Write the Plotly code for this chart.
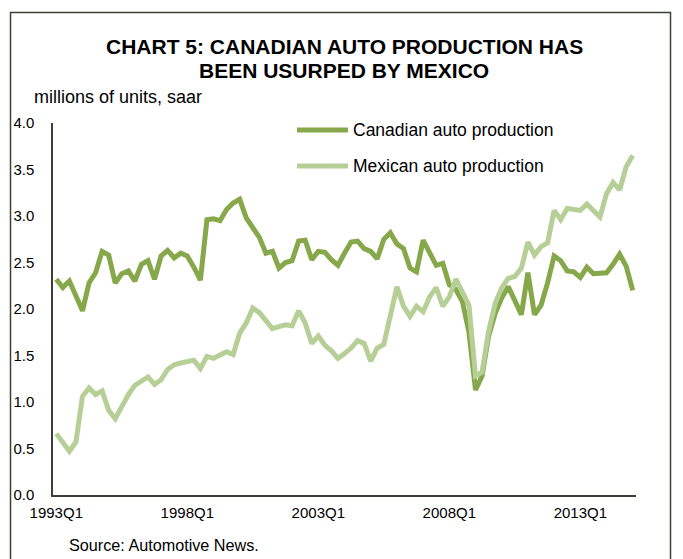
import plotly.graph_objects as go

quarters = [f"{y}Q{q}" for y in range(1993, 2016) for q in range(1, 5)][:89]

canada = [2.32, 2.23, 2.30, 2.14, 1.98, 2.28, 2.39, 2.62, 2.58, 2.28,
          2.38, 2.41, 2.30, 2.48, 2.52, 2.32, 2.57, 2.63, 2.55, 2.60,
          2.57, 2.45, 2.31, 2.96, 2.97, 2.95, 3.07, 3.14, 3.18, 2.98,
          2.88, 2.77, 2.60, 2.62, 2.44, 2.50, 2.52, 2.73, 2.74, 2.53,
          2.62, 2.61, 2.53, 2.47, 2.60, 2.72, 2.73, 2.65, 2.62, 2.54,
          2.75, 2.82, 2.70, 2.65, 2.44, 2.40, 2.74, 2.61, 2.47, 2.49,
          2.26, 2.21, 2.08, 1.75, 1.13, 1.28, 1.71, 1.95, 2.12, 2.24,
          2.10, 1.94, 2.39, 1.94, 2.04, 2.28, 2.57, 2.52, 2.41, 2.40,
          2.34, 2.45, 2.38, 2.38, 2.39, 2.48, 2.59, 2.46, 2.20]

mexico = [0.66, 0.56, 0.47, 0.57, 1.06, 1.15, 1.08, 1.12, 0.91, 0.82,
          0.95, 1.08, 1.18, 1.22, 1.27, 1.19, 1.24, 1.35, 1.40, 1.42,
          1.43, 1.45, 1.36, 1.49, 1.47, 1.51, 1.54, 1.51, 1.74, 1.85,
          2.01, 1.96, 1.88, 1.79, 1.81, 1.83, 1.82, 1.98, 1.85, 1.63,
          1.71, 1.61, 1.55, 1.47, 1.52, 1.58, 1.66, 1.63, 1.44, 1.58,
          1.62, 1.93, 2.24, 2.03, 1.92, 2.03, 1.97, 2.13, 2.23, 2.03,
          2.13, 2.32, 2.19, 2.04, 1.28, 1.32, 1.76, 2.06, 2.23, 2.33,
          2.35, 2.44, 2.72, 2.58, 2.67, 2.71, 3.06, 2.96, 3.08, 3.07,
          3.06, 3.13, 3.06, 2.99, 3.24, 3.36, 3.28, 3.53, 3.65]

x_ticks = ["1993Q1", "1998Q1", "2003Q1", "2008Q1", "2013Q1"]
y_ticks = [0.0, 0.5, 1.0, 1.5, 2.0, 2.5, 3.0, 3.5, 4.0]

names = ["Canadian auto production", "Mexican auto production"]
colors = ["#86A84A", "#B6CF97"]

FONT = "Liberation Sans, Arial, sans-serif"
AXIS = "#3b4233"

fig = go.Figure()
fig.add_trace(go.Scatter(x=quarters, y=canada, mode="lines", name=names[0],
                         line=dict(color=colors[0], width=5), showlegend=False))
fig.add_trace(go.Scatter(x=quarters, y=mexico, mode="lines", name=names[1],
                         line=dict(color=colors[1], width=5), showlegend=False))

L, R, T, B = 53, 47, 123, 64
W, H = 683, 559
pw, ph = W - L - R, H - T - B

def px(xp):
    return (xp - L) / pw

def py(yp):
    return (H - B - yp) / ph

shapes = []
annotations = []
# manual legend
for i, (yp, c) in enumerate([(130, colors[0]), (166, colors[1])]):
    shapes.append(dict(type="line", xref="paper", yref="paper",
                       x0=px(297), x1=px(348), y0=py(yp), y1=py(yp),
                       line=dict(color=c, width=5)))
    annotations.append(dict(xref="paper", yref="paper", x=px(351), y=py(yp),
                            text=names[i], showarrow=False, xanchor="left",
                            yanchor="middle",
                            font=dict(family=FONT, size=17.5, color="#000000")))

# frame
shapes.append(dict(type="rect", xref="paper", yref="paper",
                   x0=px(10.5), x1=px(670.5), y0=py(590), y1=py(12.5),
                   line=dict(color=AXIS, width=1.5), layer="below"))

annotations.append(dict(xref="paper", yref="paper", x=px(344), y=py(47),
                        text="<b>CHART 5: CANADIAN AUTO PRODUCTION HAS</b>",
                        showarrow=False, xanchor="center", yanchor="middle",
                        font=dict(family=FONT, size=21, color="#000000")))
annotations.append(dict(xref="paper", yref="paper", x=px(344), y=py(71),
                        text="<b>BEEN USURPED BY MEXICO</b>",
                        showarrow=False, xanchor="center", yanchor="middle",
                        font=dict(family=FONT, size=21, color="#000000")))
annotations.append(dict(xref="paper", yref="paper", x=px(32), y=py(97),
                        text="millions of units, saar",
                        showarrow=False, xanchor="left", yanchor="middle",
                        font=dict(family=FONT, size=18, color="#000000")))
annotations.append(dict(xref="paper", yref="paper", x=px(67), y=py(545),
                        text="Source: Automotive News.",
                        showarrow=False, xanchor="left", yanchor="middle",
                        font=dict(family=FONT, size=16.2, color="#000000")))

fig.update_layout(
    width=W, height=H,
    margin=dict(l=L, r=R, t=T, b=B),
    paper_bgcolor="white", plot_bgcolor="white",
    shapes=shapes, annotations=annotations,
    font=dict(family=FONT, size=15, color="#000000"),
    xaxis=dict(type="category", range=[-0.5, 88.5], tickmode="array",
               tickvals=x_ticks, ticktext=x_ticks, ticks="",
               ticklabelstandoff=3,
               showline=True, linecolor=AXIS, linewidth=1.5,
               showgrid=False, zeroline=False,
               tickfont=dict(family=FONT, size=15, color="#000000")),
    yaxis=dict(range=[0, 4], tickmode="array", tickvals=y_ticks,
               tickformat=".1f", ticks="", ticklabelstandoff=14,
               showline=True, linecolor=AXIS, linewidth=1.5,
               showgrid=False, zeroline=False,
               tickfont=dict(family=FONT, size=15, color="#000000")),
)

fig.write_html("out.html", config={"displayModeBar": False},
               post_script="document.body.style.margin='0';"
                           "document.body.style.overflow='hidden';")
